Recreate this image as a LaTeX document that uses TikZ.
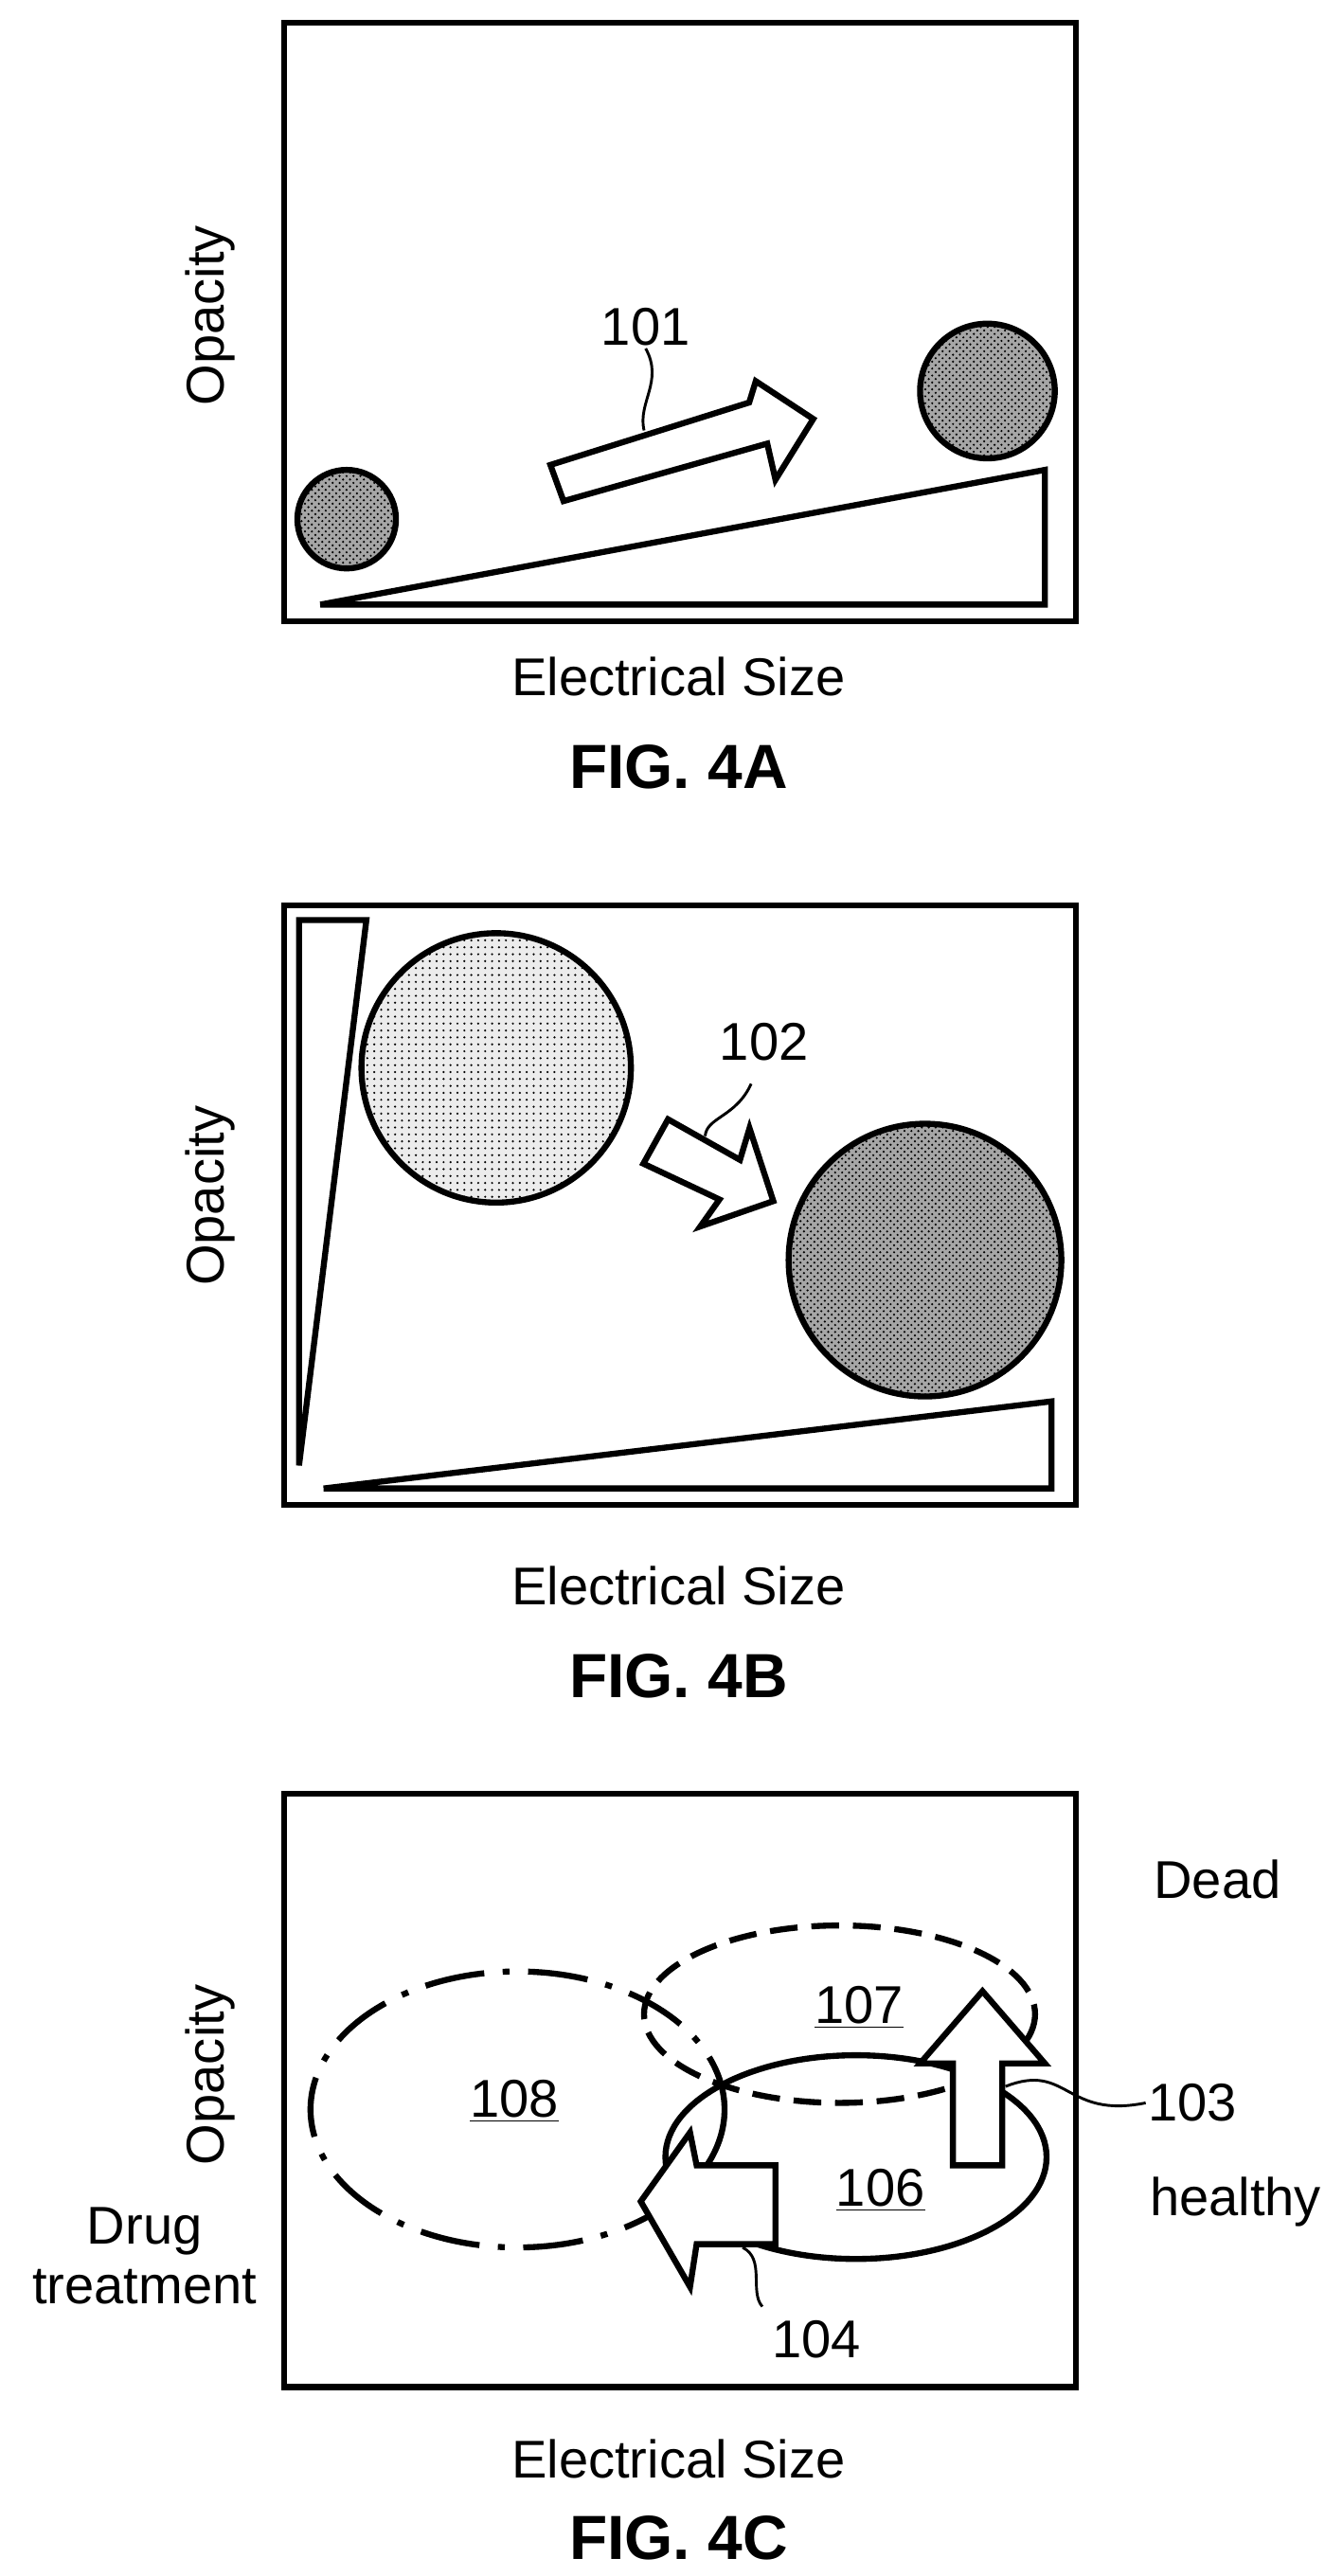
\documentclass[tikz,border=0pt]{standalone}
\usepackage{fontspec}
\setmainfont{Liberation Sans}
\usetikzlibrary{patterns}
\tikzset{
  frame/.style={line width=2.6pt},
  part/.style={line width=2.6pt, line join=miter},
  lbl/.style={font=\fontsize{23}{26}\selectfont, inner sep=1pt},
  fig/.style={font=\fontsize{27}{30}\selectfont\bfseries},
  lead/.style={line width=1.2pt},
  dense/.style={part, preaction={fill=gray!70}, pattern=crosshatch dots, pattern color=black},
  sparse/.style={part, preaction={fill=gray!15}, pattern=dots}
}
\begin{document}
\begin{tikzpicture}[x=0.025cm,y=-0.025cm]
\useasboundingbox (0,0) rectangle (817,1568);
% FIG. 4A
\draw[frame] (173,14) rectangle (655,378);
\draw[part] (195,368) -- (636,286) -- (636,368) -- cycle;
\draw[dense] (211,316) circle (30);
\draw[dense] (601,238) circle (41);
\draw[part] (335,283) -- (456,245) -- (460,232) -- (495,255) -- (472,292) -- (467,270) -- (343,305) -- cycle;
\node[lbl] (n101) at (393,199) {101};
\coordinate (a101) at (392,262);
\draw[lead] (n101.south) .. controls (404,232) and (388,245) .. (a101);
\node[lbl, rotate=90] (ya) at (128,192) {Opacity};
\node[lbl] (xa) at (413,412) {Electrical Size};
\node[fig] (fa) at (413,467) {FIG. 4A};
% FIG. 4B
\draw[frame] (173,551) rectangle (655,916);
\draw[part] (182,560) -- (223,560) -- (182,892) -- cycle;
\draw[part] (197,906) -- (640,853) -- (640,906) -- cycle;
\draw[sparse] (302,650) circle (82);
\draw[dense] (563,767) circle (83);
\draw[part] (406.6,681.3) -- (450.4,706) -- (456.2,686.7) -- (470.7,731.1) -- (426.3,746.5) -- (437.9,730.1) -- (391.6,708.3) -- cycle;
\node[lbl] (n102) at (465,634) {102};
\coordinate (a102) at (429.2,691.5);
\draw[lead] (457.2,659.7) .. controls (448,680) and (430,680) .. (a102);
\node[lbl, rotate=90] (yb) at (128,728) {Opacity};
\node[lbl] (xb) at (413,965) {Electrical Size};
\node[fig] (fb) at (413,1020) {FIG. 4B};
% FIG. 4C
\draw[frame] (173,1092) rectangle (655,1453);
\draw[part, dash pattern=on 12pt off 6pt] (511,1226) ellipse (119 and 54);
\draw[part, dash pattern=on 26pt off 8pt on 3pt off 8pt] (315,1284) ellipse (126 and 84);
\draw[part] (521,1313) ellipse (116 and 62);
\draw[part, fill=white] (580,1318) -- (580,1256) -- (560,1256) -- (598,1212) -- (636,1256) -- (610,1256) -- (610,1318) -- cycle;
\draw[part, fill=white] (472,1318) -- (424,1318) -- (420,1298) -- (390,1340) -- (420,1392) -- (424,1366) -- (472,1366) -- cycle;
\node[lbl] (n107) at (523,1222) {\underline{107}};
\node[lbl] (n108) at (313,1279) {\underline{108}};
\node[lbl] (n106) at (536,1333) {\underline{106}};
\node[lbl] (n103) at (726,1280) {103};
\coordinate (a103) at (612,1270);
\draw[lead] (a103) .. controls (650,1255) and (648,1290) .. (n103.west);
\node[lbl] (n104) at (497,1424) {104};
\coordinate (a104) at (452,1368);
\draw[lead] (a104) .. controls (466,1375) and (456,1395) .. (464,1404);
\node[lbl] (dead) at (741,1144) {Dead};
\node[lbl] (healthy) at (752,1340) {healthy};
\node[lbl, align=center] (drug) at (88,1373) {Drug\\treatment};
\node[lbl, rotate=90] (yc) at (128,1263) {Opacity};
\node[lbl] (xc) at (413,1497) {Electrical Size};
\node[fig] (fc) at (413,1545) {FIG. 4C};
\end{tikzpicture}
\end{document}
